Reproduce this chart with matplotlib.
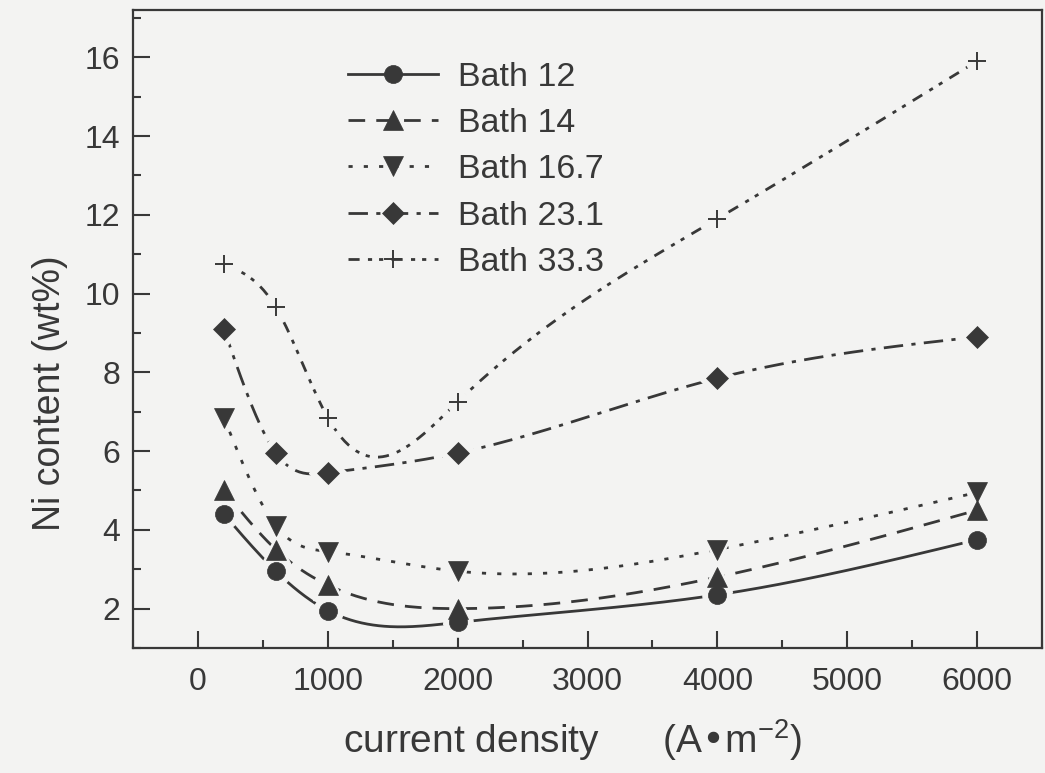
import numpy as np
import matplotlib
matplotlib.use("Agg")
import matplotlib.pyplot as plt
from matplotlib.lines import Line2D
from matplotlib.ticker import MultipleLocator

plt.rcParams['font.family'] = ['Liberation Sans', 'DejaVu Sans']

# ---- data ----
current_density = [200, 600, 1000, 2000, 4000, 6000]
bath_12 = [4.4, 2.95, 1.95, 1.65, 2.35, 3.75]
bath_14 = [5.0, 3.5, 2.6, 2.0, 2.8, 4.5]
bath_16_7 = [6.85, 4.1, 3.45, 2.95, 3.5, 4.95]
bath_23_1 = [9.1, 5.95, 5.45, 5.95, 7.85, 8.9]
bath_33_3 = [10.75, 9.65, 6.85, 7.25, 11.9, 15.9]
labels = ["Bath 12", "Bath 14", "Bath 16.7", "Bath 23.1", "Bath 33.3"]
series = [bath_12, bath_14, bath_16_7, bath_23_1, bath_33_3]

INK = '#383838'
BG = '#f3f3f2'

def natural_spline(x, y, n=400):
    x = np.asarray(x, float); y = np.asarray(y, float)
    k = len(x)
    h = np.diff(x)
    A = np.zeros((k, k)); r = np.zeros(k)
    A[0, 0] = 1; A[-1, -1] = 1
    for i in range(1, k - 1):
        A[i, i - 1] = h[i - 1]
        A[i, i] = 2 * (h[i - 1] + h[i])
        A[i, i + 1] = h[i]
        r[i] = 3 * ((y[i + 1] - y[i]) / h[i] - (y[i] - y[i - 1]) / h[i - 1])
    c = np.linalg.solve(A, r)
    b = np.zeros(k - 1); d = np.zeros(k - 1)
    for i in range(k - 1):
        b[i] = (y[i + 1] - y[i]) / h[i] - h[i] * (2 * c[i] + c[i + 1]) / 3
        d[i] = (c[i + 1] - c[i]) / (3 * h[i])
    xs = np.linspace(x[0], x[-1], n)
    idx = np.clip(np.searchsorted(x, xs) - 1, 0, k - 2)
    dx = xs - x[idx]
    ys = y[idx] + b[idx] * dx + c[idx] * dx ** 2 + d[idx] * dx ** 3
    return xs, ys

styles = [
    dict(ls='-', marker='o', ms=13),
    dict(ls=(0, (6, 4)), marker='^', ms=14),
    dict(ls=(0, (1.5, 4)), marker='v', ms=14),
    dict(ls=(0, (7, 3, 1.5, 3)), marker='D', ms=11.5),
    dict(ls=(0, (4, 3, 1.5, 2.5, 1.5, 3)), marker='+', ms=13),
]

fig = plt.figure(figsize=(10.45, 7.73), dpi=100, facecolor=BG)
ax = fig.add_axes([133 / 1045, 1 - 648 / 773, (1042 - 133) / 1045, (648 - 10) / 773])
ax.set_facecolor(BG)

for ys, st in zip(series, styles):
    xs, yy = natural_spline(current_density, ys)
    ax.plot(xs, yy, color=INK, lw=2.0, ls=st['ls'], zorder=2)
# halos to create gaps around markers
for ys, st in zip(series, styles):
    if st['marker'] == '+':
        ax.plot(current_density, ys, ls='none', marker='o', ms=st['ms'] + 3,
                mfc=BG, mec=BG, zorder=3)
    else:
        ax.plot(current_density, ys, ls='none', marker=st['marker'], ms=st['ms'] + 8,
                mfc=BG, mec=BG, zorder=3)
for ys, st in zip(series, styles):
    ax.plot(current_density, ys, ls='none', marker=st['marker'], ms=st['ms'],
            mfc=INK, mec=INK, mew=1.4 if st['marker'] == '+' else 0.5, zorder=4)

handles = [Line2D([0], [0], color=INK, lw=2.0, ls=st['ls'], marker=st['marker'],
                  ms=st['ms'], mfc=INK, mec=INK,
                  mew=1.4 if st['marker'] == '+' else 0.5) for st in styles]
leg = ax.legend(handles, labels, loc='upper left', bbox_to_anchor=(0.236, 0.919),
                frameon=False, fontsize=24.5, handlelength=2.65, handletextpad=0.6,
                labelspacing=0.45, borderaxespad=0, borderpad=0)
for t in leg.get_texts():
    t.set_color(INK)

ax.set_xlim(-500, 6500)
ax.set_ylim(1.0, 17.2)
ax.xaxis.set_minor_locator(MultipleLocator(500))
ax.yaxis.set_minor_locator(MultipleLocator(1))
ax.set_yticks([2, 4, 6, 8, 10, 12, 14, 16])
ax.set_xticks([0, 1000, 2000, 3000, 4000, 5000, 6000])
ax.tick_params(which='both', direction='in', top=False, right=False, colors=INK,
               width=1.5)
ax.tick_params(axis='both', which='major', labelsize=23, length=12)
ax.tick_params(which='minor', length=6)
ax.tick_params(axis='y', pad=9)
ax.tick_params(axis='x', pad=14)
for s in ax.spines.values():
    s.set_color(INK)
    s.set_linewidth(1.6)

ax.set_xlabel('current density      (A\u2022m$^{\\mathregular{-2}}$)', fontsize=28, color=INK)
ax.set_ylabel('Ni content (wt%)', fontsize=27, color=INK)
ax.xaxis.set_label_coords(0.483, -0.108)
ax.yaxis.set_label_coords(-0.072, 0.40)

fig.savefig('out.png', dpi=100, facecolor=BG)
